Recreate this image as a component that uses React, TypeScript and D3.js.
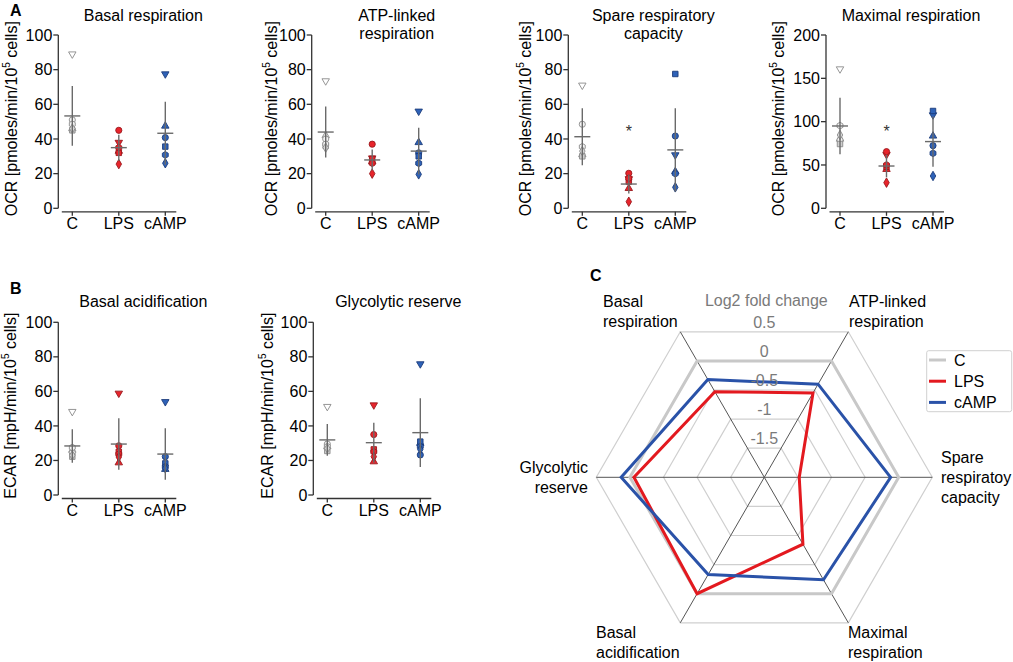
import * as d3 from 'd3';

// groups and donor symbols (same order in every value array)
const groups = ['C', 'LPS', 'cAMP'];
const donorShapes = ['triDown', 'triUp', 'circle', 'square', 'hexagon', 'diamond'];

// Panel A — OCR
const basalRespValues = [
  [89, 46, 51, 45, 48.5, 46],
  [38, 33, 45, 32, 35, 25.5],
  [77.5, 47.5, 40.8, 35.6, 30.8, 26],
];
const basalRespMean = [53.3, 35, 43.3];
const basalRespSD = [17.2, 7.5, 18.2];

const atpLinkedValues = [
  [73.5, 42, 40, 36, 37, 35],
  [29, 27, 37, 28.5, 26, 20],
  [56, 38, 32, 30, 26, 19.6],
];
const atpLinkedMean = [44, 27.9, 33];
const atpLinkedSD = [14.7, 6, 13.5];

const spareCapValues = [
  [71, 31, 48.5, 30, 35.5, 33],
  [17, 11.5, 20.2, 15.4, 17.3, 3.8],
  [30.8, 21.2, 41.7, 77.5, 20, 12.1],
];
const spareCapMean = [41.3, 14, 33.7];
const spareCapSD = [16.4, 5.5, 24];

const maximalRespValues = [
  [160.8, 80, 78.8, 74.2, 95.4, 84.6],
  [62, 45, 65.4, 48, 50, 29.6],
  [107.7, 83.5, 72.3, 112.3, 63.5, 37.3],
];
const maximalRespMean = [95, 48.8, 77];
const maximalRespSD = [32.7, 13, 29];

// Panel B — ECAR
const basalAcidValues = [
  [48.3, 26, 24.5, 22.2, 27.5, 23],
  [58.9, 18.7, 28.5, 25, 23.7, 22],
  [54, 14.9, 22.2, 18.3, 16.4, 15.5],
];
const basalAcidMean = [28.4, 29.5, 23.7];
const basalAcidSD = [9.7, 14.9, 14.9];

const glycoReserveValues = [
  [51.2, 28, 29.5, 25.5, 28, 27],
  [52.1, 19.3, 35, 26.4, 25, 22.2],
  [75.9, 30, 23.2, 30.9, 28, 26.4],
];
const glycoReserveMean = [31.9, 30.3, 36.1];
const glycoReserveSD = [9.2, 11.6, 19.9];

const ticks100 = [0, 20, 40, 60, 80, 100];
const ticks200 = [0, 50, 100, 150, 200];

// Panel C — radar (log2 fold change)
const radarAxes = [
  'Spare respiratory capacity',
  'ATP-linked respiration',
  'Basal respiration',
  'Glycolytic reserve',
  'Basal acidification',
  'Maximal respiration',
];
const radarRings = [-1.5, -1, -0.5, 0, 0.5];
const radarC = [0, 0, 0, 0, 0, 0];
const radarLPS = [-1.48, -0.55, -0.53, -0.06, 0.0, -0.85];
const radarCAMP = [-0.12, -0.4, -0.32, 0.13, -0.33, -0.24];

const FONT = '"Liberation Sans", Arial, Helvetica, sans-serif';

const groupStyle: Record<string, { stroke: string; fills: string[] }> = {
  C: { stroke: '#8a8a8a', fills: ['#ffffff', '#e8e8e8', '#f4f4f4', '#cfcfcf', '#f4f4f4', '#d8d8d8'] },
  LPS: { stroke: '#9a1a1e', fills: Array(6).fill('#e8242b') },
  cAMP: { stroke: '#1c3c7a', fills: Array(6).fill('#2e62b8') },
};

const symbolHexagon = {
  draw(ctx: any, size: number) {
    const r = Math.sqrt((size * 2) / (3 * Math.sqrt(3)));
    for (let i = 0; i < 6; i++) {
      const a = (Math.PI / 3) * i + Math.PI / 6;
      if (i === 0) ctx.moveTo(r * Math.cos(a), r * Math.sin(a));
      else ctx.lineTo(r * Math.cos(a), r * Math.sin(a));
    }
    ctx.closePath();
  },
};

const shapeDef: Record<string, { type: any; size: number; rot: number }> = {
  triDown: { type: d3.symbolTriangle, size: 24, rot: 180 },
  triUp: { type: d3.symbolTriangle, size: 24, rot: 0 },
  circle: { type: d3.symbolCircle, size: 30, rot: 0 },
  square: { type: d3.symbolSquare, size: 30, rot: 0 },
  hexagon: { type: symbolHexagon, size: 30, rot: 0 },
  diamond: { type: d3.symbolDiamond, size: 26, rot: 0 },
};

interface DotPlotProps {
  x0: number;
  top: number;
  bottom: number;
  yMax: number;
  ticks: number[];
  title: string[];
  titleY: number;
  yLabel: string;
  labelGap: number;
  values: number[][];
  mean: number[];
  sd: number[];
  star?: number;
}

const DotPlot = ({ x0, top, bottom, yMax, ticks, title, titleY, yLabel, labelGap, values, mean, sd, star }: DotPlotProps) => {
  const y = d3.scaleLinear().domain([0, yMax]).range([bottom, top]);
  const x = d3.scalePoint<string>().domain(groups).range([x0 + 14, x0 + 107]);
  const axisY = bottom + 3.5;
  const midY = (top + bottom) / 2 - 3;
  return (
    <g>
      {title.map((t, i) => (
        <text key={t} x={x0 + 85} y={titleY + i * 18} textAnchor="middle" fontSize={16}>
          {t}
        </text>
      ))}
      {/* y axis */}
      <line x1={x0} x2={x0} y1={y(yMax)} y2={y(0)} stroke="#333" strokeWidth={1.3} />
      {ticks.map((t) => (
        <g key={t}>
          <line x1={x0 - 5} x2={x0} y1={y(t)} y2={y(t)} stroke="#333" strokeWidth={1.3} />
          <text x={x0 - 6} y={y(t)} dy="0.35em" textAnchor="end" fontSize={16}>
            {t}
          </text>
        </g>
      ))}
      <text
        transform={`translate(${x0 - labelGap},${midY}) rotate(-90)`}
        textAnchor="middle"
        fontSize={16}
      >
        {yLabel} [{yLabel === 'OCR' ? 'pmoles' : 'mpH'}/min/10
        <tspan fontSize={10} dy={-7}>5</tspan>
        <tspan dy={7}> cells]</tspan>
      </text>
      {/* x axis */}
      <line x1={x0 + 3.5} x2={x0 + 118} y1={axisY} y2={axisY} stroke="#333" strokeWidth={1.3} />
      {groups.map((g) => (
        <g key={g}>
          <line x1={x(g)} x2={x(g)} y1={axisY} y2={axisY + 4} stroke="#333" strokeWidth={1.3} />
          <text x={x(g)} y={axisY + 17} textAnchor="middle" fontSize={16}>
            {g}
          </text>
        </g>
      ))}
      {/* points */}
      {groups.map((g, gi) =>
        values[gi].map((v, di) => {
          const s = shapeDef[donorShapes[di]];
          const path = d3.symbol().type(s.type).size(s.size)() as string;
          return (
            <path
              key={g + di}
              d={path}
              transform={`translate(${x(g)},${y(v)}) rotate(${s.rot})`}
              fill={groupStyle[g].fills[di]}
              stroke={groupStyle[g].stroke}
              strokeWidth={0.9}
            />
          );
        })
      )}
      {/* mean ± SD */}
      {groups.map((g, gi) => (
        <g key={'bar' + g} stroke="#6a6a6a" strokeWidth={1.4}>
          <line x1={x(g)} x2={x(g)} y1={y(Math.max(0, mean[gi] - sd[gi]))} y2={y(mean[gi] + sd[gi])} />
          <line x1={(x(g) as number) - 8} x2={(x(g) as number) + 8} y1={y(mean[gi])} y2={y(mean[gi])} />
        </g>
      ))}
      {star !== undefined && (
        <text x={x('LPS')} y={y(star)} dy="0.7em" textAnchor="middle" fontSize={16} fill="#333">
          *
        </text>
      )}
    </g>
  );
};

const Radar = () => {
  const cx = 764.3;
  const cy = 477.3;
  const r = d3.scaleLinear().domain([-2, 0.5]).range([0, 168]);
  const n = radarAxes.length;
  // axis i sits at i*60° counter-clockwise from east; lineRadial measures clockwise from north
  const ang = (i: number) => Math.PI / 2 - (i * 2 * Math.PI) / n;
  const radial = (vals: number[]) =>
    d3
      .lineRadial<number>()
      .angle((_, i) => ang(i))
      .radius((v) => r(v))
      .curve(d3.curveLinearClosed)(vals) as string;
  const pt = (i: number, v: number) => [
    cx + r(v) * Math.sin(ang(i)),
    cy - r(v) * Math.cos(ang(i)),
  ];
  const axisLabels = [
    { lines: ['Spare', 'respiratoy', 'capacity'], x: 941, y: 462.5, anchor: 'start' },
    { lines: ['ATP-linked', 'respiration'], x: 849, y: 307, anchor: 'start' },
    { lines: ['Basal', 'respiration'], x: 603, y: 307, anchor: 'start' },
    { lines: ['Glycolytic', 'reserve'], x: 588, y: 472.5, anchor: 'end' },
    { lines: ['Basal', 'acidification'], x: 596, y: 637.5, anchor: 'start' },
    { lines: ['Maximal', 'respiration'], x: 848, y: 637.5, anchor: 'start' },
  ];
  const series = [
    { name: 'C', vals: radarC, color: '#c8c8c8' },
    { name: 'LPS', vals: radarLPS, color: '#e3191f' },
    { name: 'cAMP', vals: radarCAMP, color: '#2a52a8' },
  ];
  return (
    <g>
      <g transform={`translate(${cx},${cy})`}>
        {radarRings.map((v) => (
          <path key={v} d={radial(radarAxes.map(() => v))} fill="none" stroke="#cfcfcf" strokeWidth={1.2} />
        ))}
      </g>
      {radarAxes.map((a, i) => {
        const [x2, y2] = pt(i, 0.5);
        return <line key={a} x1={cx} y1={cy} x2={x2} y2={y2} stroke="#555" strokeWidth={1} />;
      })}
      <text x={cx + 2} y={306} textAnchor="middle" fontSize={16} fill="#7a7a7a">
        Log2 fold change
      </text>
      <g transform={`translate(${cx},${cy})`}>
        {series.map((s) => (
          <path key={s.name} d={radial(s.vals)} fill="none" stroke={s.color} strokeWidth={3} strokeLinejoin="miter" />
        ))}
      </g>
      {radarRings.map((v) => (
        <text
          key={'t' + v}
          x={cx}
          y={cy - r(v) * Math.sin(Math.PI / 3) - 4}
          textAnchor="middle"
          fontSize={16}
          fill="#7a7a7a"
        >
          {v}
        </text>
      ))}
      {axisLabels.map((l, i) => (
        <text key={i} x={l.x} y={l.y} textAnchor={l.anchor as any} fontSize={16}>
          {l.lines.map((t, j) => (
            <tspan key={t} x={l.x} dy={j === 0 ? 0 : 20}>
              {t}
            </tspan>
          ))}
        </text>
      ))}
      {/* legend */}
      <rect x={926.7} y={350.7} width={85} height={61} rx={2} fill="#fff" stroke="#d0d0d0" strokeWidth={1} />
      {series.map((s, i) => (
        <g key={'lg' + s.name}>
          <line x1={929} x2={946} y1={360 + i * 21.2} y2={360 + i * 21.2} stroke={s.color} strokeWidth={3} />
          <text x={954} y={360 + i * 21.2} dy="0.36em" fontSize={16}>
            {s.name}
          </text>
        </g>
      ))}
    </g>
  );
};

export default function App() {
  return (
    <svg
      width={1013}
      height={662}
      style={{ position: 'absolute', left: 0, top: 0, background: '#fff', fontFamily: FONT }}
    >
      <text x={10} y={16} fontSize={16} fontWeight="bold">A</text>
      <text x={10} y={294} fontSize={16} fontWeight="bold">B</text>
      <text x={590} y={281} fontSize={16} fontWeight="bold">C</text>

      <DotPlot x0={58.3} top={35} bottom={208.3} yMax={100} ticks={ticks100} title={['Basal respiration']} titleY={21}
        yLabel="OCR" labelGap={41} values={basalRespValues} mean={basalRespMean} sd={basalRespSD} />
      <DotPlot x0={311.7} top={35} bottom={208.3} yMax={100} ticks={ticks100} title={['ATP-linked', 'respiration']} titleY={21}
        yLabel="OCR" labelGap={35} values={atpLinkedValues} mean={atpLinkedMean} sd={atpLinkedSD} />
      <DotPlot x0={568.3} top={35} bottom={208.3} yMax={100} ticks={ticks100} title={['Spare respiratory', 'capacity']} titleY={21}
        yLabel="OCR" labelGap={37} values={spareCapValues} mean={spareCapMean} sd={spareCapSD} star={47.5} />
      <DotPlot x0={826} top={35} bottom={208.3} yMax={200} ticks={ticks200} title={['Maximal respiration']} titleY={21}
        yLabel="OCR" labelGap={42} values={maximalRespValues} mean={maximalRespMean} sd={maximalRespSD} star={95} />

      <DotPlot x0={58.3} top={322.3} bottom={495} yMax={100} ticks={ticks100} title={['Basal acidification']} titleY={307}
        yLabel="ECAR" labelGap={42} values={basalAcidValues} mean={basalAcidMean} sd={basalAcidSD} />
      <DotPlot x0={313.3} top={322.3} bottom={495} yMax={100} ticks={ticks100} title={['Glycolytic reserve']} titleY={307}
        yLabel="ECAR" labelGap={40} values={glycoReserveValues} mean={glycoReserveMean} sd={glycoReserveSD} />

      <Radar />
    </svg>
  );
}
